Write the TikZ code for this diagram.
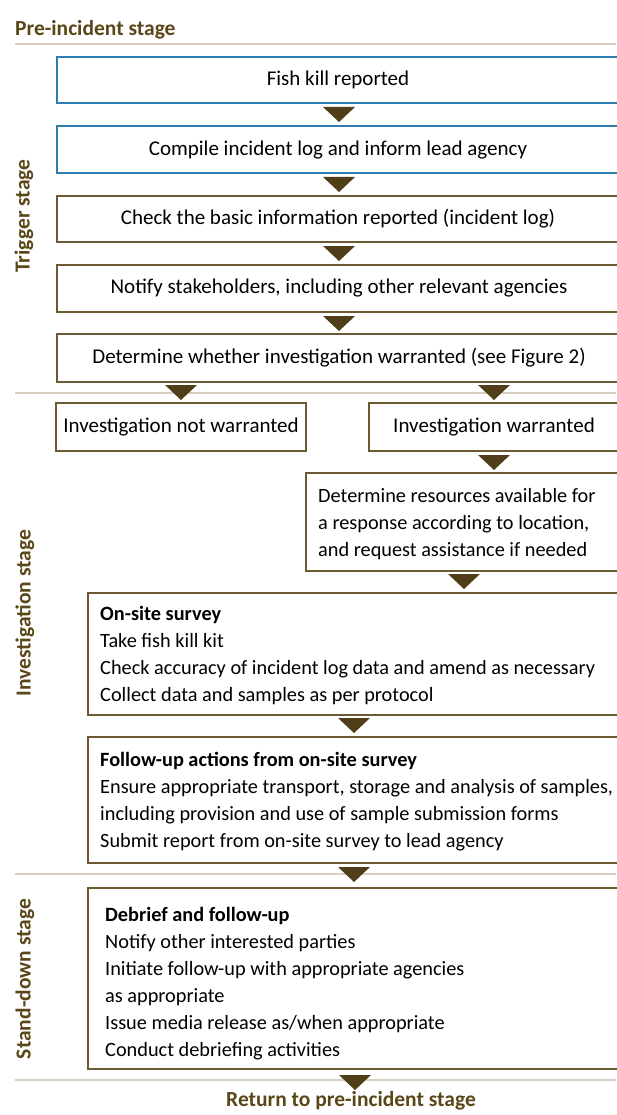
\documentclass[tikz,border=0pt]{standalone}
\usepackage{fontspec}
\setmainfont{Carlito}
\usetikzlibrary{calc,fit}
\definecolor{brd}{HTML}{6B5A32}
\definecolor{blu}{HTML}{2F7DAE}
\definecolor{arr}{HTML}{4F3E17}
\definecolor{lab}{HTML}{5A4718}
\definecolor{sepc}{HTML}{D8CFC0}
\begin{document}
\begin{tikzpicture}[x=1pt,y=-1pt,
  box/.style={draw=brd, line width=1.3pt, rectangle, inner sep=0pt},
  bbox/.style={box, draw=blu},
  txt/.style={font=\fontsize{21}{27}\selectfont, inner sep=0pt, text=black},
  mtxt/.style={font=\fontsize{20.3}{27}\selectfont, inner sep=0pt, text=black, align=left, anchor=base west},
  lbl/.style={font=\fontsize{21.5}{24}\selectfont\bfseries, text=lab, inner sep=0pt},
  sepl/.style={draw=sepc, line width=1.6pt},
  downtri/.pic={\fill[arr] (-16,0) -- (16,0) -- (0,15) -- cycle;}
]
\useasboundingbox (0,0) rectangle (616,1115);

% separator lines
\coordinate (s0l) at (15,44);   \coordinate (s0r) at (616,44);
\coordinate (s1l) at (15,393);  \coordinate (s1r) at (616,393);
\coordinate (s2l) at (15,874);  \coordinate (s2r) at (616,874);
\coordinate (s3l) at (15,1080); \coordinate (s3r) at (616,1080);
\draw[sepl] (s0l) -- (s0r);
\draw[sepl] (s1l) -- (s1r);
\draw[sepl] (s2l) -- (s2r);
\draw[sepl] (s3l) -- (s3r);

% boxes
\node[bbox, fit={(57,57) (620,103)}] (b1) {};
\node[bbox, fit={(57,126) (620,173)}] (b2) {};
\node[box, fit={(57,196) (620,242)}] (b3) {};
\node[box, fit={(57,265) (620,312)}] (b4) {};
\node[box, fit={(57,334) (620,382)}] (b5) {};
\node[box, fit={(56,403) (306,451)}] (b6) {};
\node[box, fit={(369,403) (620,451)}] (b7) {};
\node[box, fit={(306,473) (620,571)}] (b8) {};
\node[box, fit={(88,593) (620,715)}] (b9) {};
\node[box, fit={(88,737) (620,863)}] (b10) {};
\node[box, fit={(88,888) (620,1069)}] (b11) {};

% texts (multi-line nodes: base anchor = last line's baseline)
\node[txt] (t1) at (338,80) {Fish kill reported};
\node[txt] (t2) at (338,150) {Compile incident log and inform lead agency};
\node[txt] (t3) at (338,219) {Check the basic information reported (incident log)};
\node[txt] (t4) at (339,288) {Notify stakeholders, including other relevant agencies};
\node[txt] (t5) at (339,358) {Determine whether investigation warranted (see Figure 2)};
\node[txt] (t6) at (181,427) {Investigation not warranted};
\node[txt] (t7) at (494,427) {Investigation warranted};
\node[mtxt] (t8) at (318,556) {Determine resources available for\\a response according to location,\\and request assistance if needed};
\node[mtxt] (t9) at (100,701) {\textbf{On-site survey}\\Take fish kill kit\\Check accuracy of incident log data and amend as necessary\\Collect data and samples as per protocol};
\node[mtxt] (t10) at (100,847) {\textbf{Follow-up actions from on-site survey}\\Ensure appropriate transport, storage and analysis of samples,\\including provision and use of sample submission forms\\Submit report from on-site survey to lead agency};
\node[mtxt] (t11) at (105,1056) {\textbf{Debrief and follow-up}\\Notify other interested parties\\Initiate follow-up with appropriate agencies\\as appropriate\\Issue media release as/when appropriate\\Conduct debriefing activities};

% stage labels
\node[lbl, anchor=base west] (l0) at (15,36) {Pre-incident stage};
\node[lbl, rotate=90] (l1) at (24,216) {Trigger stage};
\node[lbl, rotate=90] (l2) at (25,613) {Investigation stage};
\node[lbl, rotate=90] (l3) at (25,979) {Stand-down stage};
\node[lbl] (l4) at (351,1101) {Return to pre-incident stage};

% arrow markers
\coordinate (a1) at (339,107);
\coordinate (a2) at (339,177);
\coordinate (a3) at (339,246);
\coordinate (a4) at (339,316);
\coordinate (a5) at (181,385);
\coordinate (a6) at (494,385);
\coordinate (a7) at (494,455);
\coordinate (a8) at (464,574);
\coordinate (a9) at (354,718);
\coordinate (a10) at (354,867);
\coordinate (a11) at (355,1075);
\foreach \a in {a1,a2,a3,a4,a5,a6,a7,a8,a9,a10,a11} { \pic at (\a) {downtri}; }
\end{tikzpicture}
\end{document}
